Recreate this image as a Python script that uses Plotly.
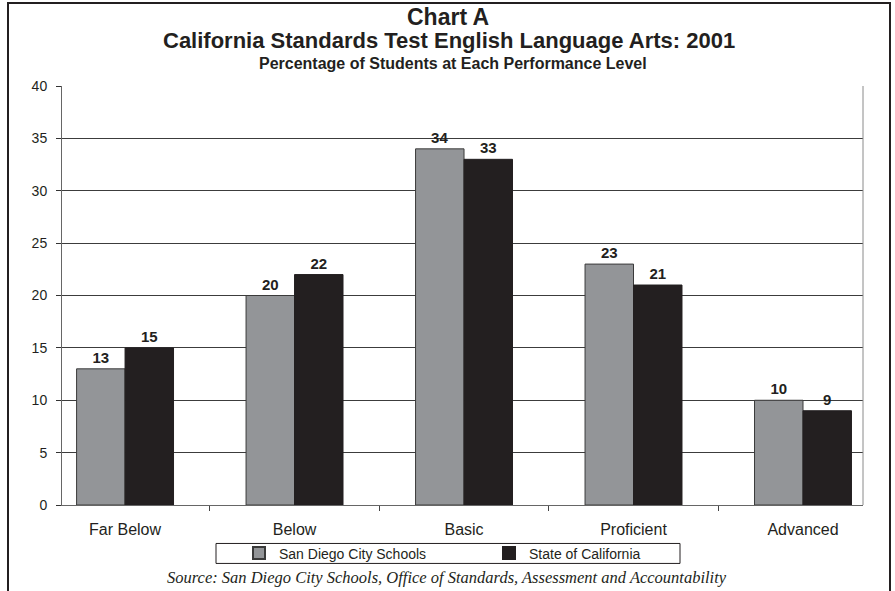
import plotly.graph_objects as go

categories = ["Far Below", "Below", "Basic", "Proficient", "Advanced"]
san_diego = [13, 20, 34, 23, 10]
california = [15, 22, 33, 21, 9]
series_names = ["San Diego City Schools", "State of California"]
y_ticks = [0, 5, 10, 15, 20, 25, 30, 35, 40]

W, H = 895, 591
L, R, T, B = 62, 863, 86, 505.5

def px_x(x):
    return (x - L) / (R - L)

def px_y(y):
    return (B - y) / (B - T)

font_main = "Liberation Sans, Arial, sans-serif"
label_font = dict(family=font_main, size=15, color="#231f20", weight="bold")

fig = go.Figure()
fig.add_trace(go.Bar(
    x=categories, y=san_diego, name=series_names[0],
    marker=dict(color="#939598", line=dict(color="#3a3a3a", width=1)),
    text=san_diego, texttemplate="%{y}", textposition="outside",
    textfont=label_font, cliponaxis=False,
))
fig.add_trace(go.Bar(
    x=categories, y=california, name=series_names[1],
    marker=dict(color="#231f20", line=dict(color="#231f20", width=1)),
    text=california, texttemplate="%{y}", textposition="outside",
    textfont=label_font, cliponaxis=False,
))

annotations = [
    dict(text="<b>Chart A</b>", x=px_x(448), xref="paper", y=px_y(17), yref="paper",
         xanchor="center", yanchor="middle", showarrow=False,
         font=dict(family=font_main, size=23, color="#231f20")),
    dict(text="<b>California Standards Test English Language Arts: 2001</b>", x=px_x(449), xref="paper",
         y=px_y(40), yref="paper", xanchor="center", yanchor="middle", showarrow=False,
         font=dict(family=font_main, size=22, color="#231f20")),
    dict(text="<b>Percentage of Students at Each Performance Level</b>", x=px_x(453), xref="paper",
         y=px_y(63), yref="paper", xanchor="center", yanchor="middle", showarrow=False,
         font=dict(family=font_main, size=16, color="#231f20")),
    dict(text="Source: San Diego City Schools, Office of Standards, Assessment and Accountability",
         x=px_x(447), xref="paper", y=px_y(578), yref="paper", xanchor="center", yanchor="middle",
         showarrow=False,
         font=dict(family="Liberation Serif, Times New Roman, serif", size=16.5, color="#231f20", style="italic")),
]

shapes = [
    # outer frame
    dict(type="rect", xref="paper", yref="paper", x0=px_x(8), x1=px_x(890), y0=px_y(600), y1=px_y(3),
         line=dict(color="#231f20", width=2), fillcolor="rgba(0,0,0,0)", layer="above"),
    # legend box
    dict(type="rect", xref="paper", yref="paper", x0=px_x(216), x1=px_x(680), y0=px_y(564), y1=px_y(544),
         line=dict(color="#231f20", width=1), fillcolor="rgba(0,0,0,0)"),
    # right border of plot area
    dict(type="line", xref="paper", yref="paper", x0=1, x1=1, y0=0, y1=1,
         line=dict(color="#8a8a8a", width=1)),
]

fig.update_layout(
    width=W, height=H,
    margin=dict(l=L, r=W - R, t=T, b=H - B, pad=0),
    paper_bgcolor="white", plot_bgcolor="white",
    barmode="group", bargap=0.428, bargroupgap=0,
    font=dict(family=font_main, color="#231f20"),
    showlegend=True,
    legend=dict(orientation="h", x=px_x(489), xanchor="center", y=px_y(554), yanchor="middle",
                font=dict(family=font_main, size=14, color="#231f20"),
                bgcolor="rgba(0,0,0,0)", borderwidth=0, entrywidth=205, entrywidthmode="pixels",
                itemsizing="constant", traceorder="normal"),
    annotations=annotations,
    shapes=shapes,
    xaxis=dict(
        range=[-0.372, 4.354], showgrid=False, showline=True, linecolor="#666666", linewidth=1,
        ticks="outside", tickson="boundaries", ticklen=5, tickcolor="#444444",
        tickfont=dict(family=font_main, size=16, color="#231f20"), zeroline=False,
        ticklabelstandoff=10,
    ),
    yaxis=dict(
        range=[0, 40], tickvals=y_ticks, showgrid=True, gridcolor="#3c3c3c", gridwidth=1,
        showline=True, linecolor="#666666", linewidth=1, ticks="outside", ticklen=5,
        tickcolor="#333333", tickfont=dict(family=font_main, size=14, color="#231f20"),
        zeroline=False, ticklabelstandoff=6,
    ),
)

fig.write_html("out.html")
